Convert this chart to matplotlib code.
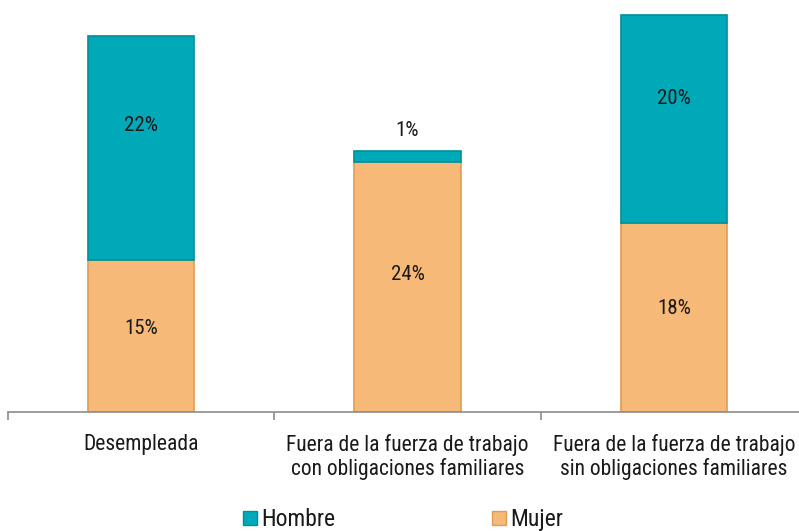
import matplotlib.pyplot as plt
import numpy as np
from matplotlib import font_manager
from matplotlib.lines import Line2D

installed = {f.name for f in font_manager.fontManager.ttflist}
families = [f for f in ['Roboto Condensed', 'Liberation Sans Narrow', 'Lato'] if f in installed]
plt.rcParams['font.family'] = families + ['DejaVu Sans']

categories = ['Desempleada',
              'Fuera de la fuerza de trabajo\ncon obligaciones familiares',
              'Fuera de la fuerza de trabajo\nsin obligaciones familiares']
mujer = [14.8, 24.4, 18.4]
hombre = [21.9, 1.1, 20.3]

MUJER_COLOR = '#F7B977'
MUJER_EDGE = '#E39A55'
HOMBRE_COLOR = '#00A9B7'
HOMBRE_EDGE = '#008F99'
TEXT_COLOR = '#1a1a1a'

fig = plt.figure(figsize=(7.99, 5.31), dpi=100)
ax = fig.add_axes([8 / 799, 119 / 531, 1.0, 410 / 531])

x = np.arange(len(categories))
width = 0.4
ax.bar(x, mujer, width, color=MUJER_COLOR, edgecolor=MUJER_EDGE, linewidth=1.2, label='Mujer')
ax.bar(x, hombre, width, bottom=mujer, color=HOMBRE_COLOR, edgecolor=HOMBRE_EDGE, linewidth=1.2,
       label='Hombre')

# Labels inside the bars (the small one goes above)
for i in range(len(categories)):
    ax.text(x[i], mujer[i] * 0.55, f'{round(mujer[i])}%', ha='center', va='center',
            fontsize=15, color=TEXT_COLOR)
    if hombre[i] < 3:
        ax.text(x[i], mujer[i] + hombre[i] + 1.0, f'{round(hombre[i])}%', ha='center',
                va='bottom', fontsize=15, color=TEXT_COLOR)
    else:
        ax.text(x[i], mujer[i] + hombre[i] * 0.6, f'{round(hombre[i])}%', ha='center',
                va='center', fontsize=15, color=TEXT_COLOR)

ax.set_xlim(-0.5, 2.5)
ax.set_ylim(0, 40)
ax.set_yticks([])
for side in ['top', 'right', 'left']:
    ax.spines[side].set_visible(False)
ax.spines['bottom'].set_color('#8c8c8c')
ax.spines['bottom'].set_linewidth(1.2)

ax.set_xticks([-0.5, 0.5, 1.5, 2.5])
ax.set_xticklabels([])
ax.tick_params(axis='x', which='major', length=6, color='#8c8c8c', width=1.2)
ax.set_xticks(x, minor=True)
ax.set_xticklabels(categories, minor=True, fontsize=15.5, color=TEXT_COLOR, linespacing=1.1)
ax.tick_params(axis='x', which='minor', length=0, pad=16)

handles = [
    Line2D([], [], marker='s', linestyle='', markersize=10, markerfacecolor=HOMBRE_COLOR,
           markeredgecolor=HOMBRE_EDGE, label='Hombre'),
    Line2D([], [], marker='s', linestyle='', markersize=10, markerfacecolor=MUJER_COLOR,
           markeredgecolor=MUJER_EDGE, label='Mujer'),
]
fig.legend(handles=handles, loc='center', bbox_to_anchor=(0.5, 0.022), ncol=2, frameon=False,
           fontsize=17, handletextpad=-0.1, handlelength=1.2, columnspacing=6.3,
           labelcolor=TEXT_COLOR)

fig.savefig('out.png', dpi=100)
